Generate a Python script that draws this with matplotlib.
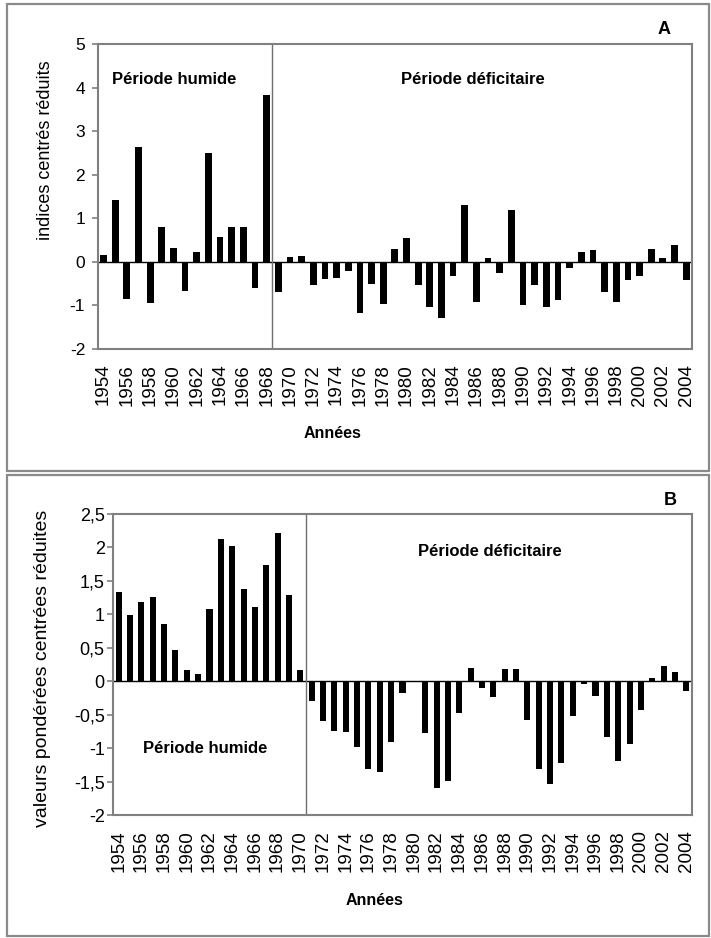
import numpy as np
import matplotlib
matplotlib.use("Agg")
import matplotlib.pyplot as plt
from matplotlib.patches import Rectangle

plt.rcParams['font.family'] = ['Liberation Sans', 'DejaVu Sans']

years = list(range(1954, 2005))
tick_labels = [str(y) for y in years[::2]]

# A : indices centres reduits
indices_a = [0.15, 1.42, -0.87, 2.63, -0.96, 0.80, 0.32, -0.67, 0.21, 2.50,
             0.57, 0.79, 0.79, -0.60, 3.83, -0.69, 0.11, 0.13, -0.55, -0.41,
             -0.38, -0.21, -1.19, -0.51, -0.97, 0.28, 0.55, -0.54, -1.05, -1.30,
             -0.33, 1.30, -0.92, 0.09, -0.27, 1.19, -1.01, -0.54, -1.05, -0.88,
             -0.15, 0.21, 0.27, -0.69, -0.92, -0.42, -0.34, 0.28, 0.08, 0.38,
             -0.42]

# B : valeurs ponderees centrees reduites (1980 : pas de barre)
valeurs_b = [1.33, 0.98, 1.18, 1.26, 0.86, 0.47, 0.16, 0.11, 1.08, 2.12,
             2.02, 1.37, 1.11, 1.73, 2.21, 1.29, 0.16, -0.30, -0.59, -0.74,
             -0.76, -0.98, -1.32, -1.36, -0.91, -0.18, 0.0, -0.77, -1.60, -1.49,
             -0.47, 0.20, -0.11, -0.24, 0.18, 0.18, -0.58, -1.32, -1.54, -1.23,
             -0.52, -0.04, -0.22, -0.84, -1.19, -0.94, -0.43, 0.04, 0.22, 0.14,
             -0.15]

W, H = 711, 938
fig = plt.figure(figsize=(W / 100, H / 100), dpi=100)

# cadres gris des deux panneaux
for (x0, y0, x1, y1) in [(7, 4, 709, 471), (7, 475, 709, 936)]:
    fig.add_artist(Rectangle((x0 / W, 1 - y1 / H), (x1 - x0) / W, (y1 - y0) / H,
                             transform=fig.transFigure, fill=False,
                             edgecolor='#8a8a8a', lw=1.6))


def panel(rect, vals, ylim, yticks, ylabels, ytick_fs, ypad, ylabel, ylab_fs,
          ylab_xy, split, letter, letter_xy, annees_xy, txt_h, txt_d, width):
    ax = fig.add_axes([rect[0] / W, 1 - rect[3] / H, (rect[2] - rect[0]) / W,
                       (rect[3] - rect[1]) / H])
    x = np.arange(len(vals))
    ax.bar(x, vals, width=width, color='black')
    ax.axhline(0, color='black', lw=1.0)
    ax.axvline(split, color='#707070', lw=1.0)
    ax.set_xlim(-0.5, len(vals) - 0.5)
    ax.set_ylim(*ylim)
    ax.set_yticks(yticks)
    ax.set_yticklabels(ylabels, fontsize=ytick_fs)
    ax.set_xticks(x[::2])
    ax.set_xticklabels(tick_labels, rotation=90, fontsize=13.5)
    ax.tick_params(axis='x', length=0, pad=11)
    ax.tick_params(axis='y', length=4, color='#808080', width=1.2, pad=ypad)
    for s in ax.spines.values():
        s.set_color('#808080')
        s.set_linewidth(1.5)
    ax.set_ylabel(ylabel, fontsize=ylab_fs)
    ax.yaxis.set_label_coords(ylab_xy[0], ylab_xy[1])
    fig.text(annees_xy[0] / W, 1 - annees_xy[1] / H, 'Années', fontsize=11.5,
             fontweight='bold', ha='center', va='center')
    ax.text(txt_h[0], txt_h[1], 'Période humide', transform=ax.transAxes,
            fontsize=12, fontweight='bold', ha='left', va='center')
    ax.text(txt_d[0], txt_d[1], 'Période déficitaire', transform=ax.transAxes,
            fontsize=12, fontweight='bold', ha='left', va='center')
    fig.text(letter_xy[0] / W, 1 - letter_xy[1] / H, letter, fontsize=13,
             fontweight='bold', ha='center', va='center')
    return ax


panel((97.7, 44, 692, 348.5), indices_a, (-2, 5), range(-2, 6),
      [str(v) for v in range(-2, 6)], 12.5, 5,
      'indices centrés réduits', 13, (-0.074, 0.652), 14.5,
      'A', (664, 30), (333, 433), (0.024, 0.885), (0.510, 0.885), 0.58)

b_ticks = [-2, -1.5, -1, -0.5, 0, 0.5, 1, 1.5, 2, 2.5]
panel((113, 513.7, 692, 815), valeurs_b, (-2, 2.5), b_ticks,
      [('%g' % v).replace('.', ',') for v in b_ticks], 13, 2,
      'valeurs pondérées centrées réduites', 14, (-0.107, 0.488), 16.5,
      'B', (670, 500), (375, 900), (0.051, 0.222), (0.527, 0.873), 0.53)

fig.savefig('out.png', dpi=100)
